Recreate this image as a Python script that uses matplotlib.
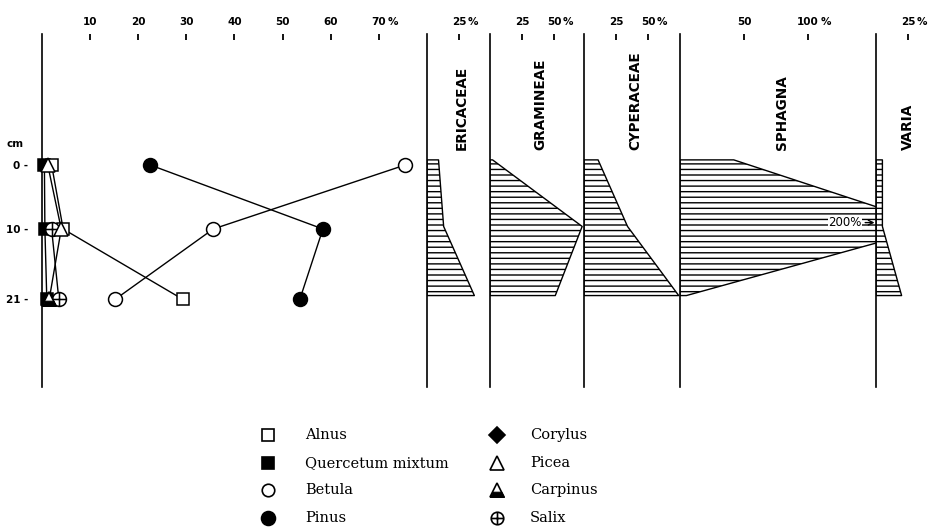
import numpy as np
import matplotlib.pyplot as plt
from matplotlib.path import Path

# sample depths (cm)
depths = [0, 10, 21]

# tree pollen (%)
alnus = [2.0, 4.4, 29.3]
quercetum = [0.5, 0.6, 1.0]
betula = [75.5, 35.6, 15.2]
pinus = [22.5, 58.4, 53.6]
picea = [1.2, 4.0, 1.5]
carpinus = [np.nan, np.nan, 1.5]
salix = [np.nan, 2.0, 3.5]

# other panels (%)
ericaceae = [9, 13, 37]
gramineae = [2, 72, 51]
cyperaceae = [11, 34, 74]
sphagna = [42, 200, 5]
varia = [5, 5, 20]

tree_ticks = [10, 20, 30, 40, 50, 60, 70]
legend_labels = ["Alnus", "Quercetum mixtum", "Betula", "Pinus",
                 "Corylus", "Picea", "Carpinus", "Salix"]

W, H = 931, 532
TOP, BOT = 34, 387          # pixel rows of the diagram frame
Y0, PX_CM = 165, 6.4        # row of 0 cm, pixels per cm
ylim = ((BOT - Y0) / PX_CM, (TOP - Y0) / PX_CM)
band = [-0.8, 9.6, 20.4]    # where the profile vertices are drawn

plt.rcParams['hatch.linewidth'] = 1.0
tickfont = dict(family='DejaVu Sans', weight='bold', size=7.5)
namefont = dict(family='DejaVu Sans', weight='bold', size=9.8)

fig = plt.figure(figsize=(W / 100, H / 100), dpi=100)


def frame(x0, x1, pxper):
    ax = fig.add_axes([x0 / W, 1 - BOT / H, (x1 - x0) / W, (BOT - TOP) / H])
    ax.set_facecolor('none')
    ax.set_xlim(0, (x1 - x0) / pxper)
    ax.set_ylim(*ylim)
    for s in ['top', 'right', 'bottom']:
        ax.spines[s].set_visible(False)
    ax.spines['left'].set_linewidth(1.2)
    ax.xaxis.tick_top()
    ax.tick_params(axis='x', direction='in', length=4, width=1.3, labeltop=False)
    ax.set_yticks([])
    return ax


def top_labels(ax, ticks, pct_on):
    ax.set_xticks(ticks)
    for v in ticks:
        t = ax.annotate(str(v), xy=(v, 1), xycoords=('data', 'axes fraction'),
                        xytext=(0, 5), textcoords='offset points',
                        ha='center', va='bottom', **tickfont)
        if v in pct_on:
            ax.annotate('%', xy=(1, 0), xycoords=t, xytext=(1, 0),
                        textcoords='offset points', ha='left', va='bottom',
                        **tickfont)


# ---- tree pollen panel
ax = frame(42, 427, 4.81)
top_labels(ax, tree_ticks, [70])
ax.set_yticks(depths)
ax.set_yticklabels(['0 -', '10 -', '21 -'], **tickfont)
ax.tick_params(axis='y', length=0, pad=10)
ax.text(-5.6, -3.3, 'cm', ha='center', va='center', **tickfont)

circ_plus = Path.make_compound_path(
    Path.unit_circle(),
    Path([(-1, 0), (1, 0)], [Path.MOVETO, Path.LINETO]),
    Path([(0, -1), (0, 1)], [Path.MOVETO, Path.LINETO]))
base_band = Path([(-1, -1), (1, -1), (0.62, -0.25), (-0.62, -0.25), (-1, -1)],
                 [Path.MOVETO, Path.LINETO, Path.LINETO, Path.LINETO, Path.CLOSEPOLY])

series = [
    (quercetum, dict(marker='s', mfc='k', ms=8)),
    (alnus, dict(marker='s', mfc='white', ms=9)),
    (salix, dict(marker=circ_plus, mfc='white', ms=10)),
    (picea, dict(marker='^', mfc='white', ms=10)),
    (carpinus, dict(marker='^', mfc='white', ms=10)),
    (betula, dict(marker='o', mfc='white', ms=10)),
    (pinus, dict(marker='o', mfc='k', ms=10)),
]
for vals, st in series:
    ax.plot(vals, depths, color='k', lw=1.0, zorder=2, clip_on=False)
for vals, st in series:
    ax.plot(vals, depths, ls='none', mec='k', mew=1.1, zorder=3, clip_on=False, **st)
ax.plot(carpinus, depths, ls='none', marker=base_band, mfc='k', mec='k',
        ms=10, mew=0.8, zorder=4, clip_on=False)

# ---- silhouette panels
panels = [
    ('ERICACEAE', 427, 490, ericaceae, [25], [25], 27.3),
    ('GRAMINEAE', 490, 584, gramineae, [25, 50], [50], 39),
    ('CYPERACEAE', 584, 680, cyperaceae, [25, 50], [50], 39.8),
    ('SPHAGNA', 680, 876, sphagna, [50, 100], [100], 80),
    ('VARIA', 876, 931, varia, [25], [25], 25),
]
for name, x0, x1, vals, ticks, pct_on, lx in panels:
    pax = frame(x0, x1, 1.28)
    top_labels(pax, ticks, pct_on)
    pax.fill_betweenx(band, 0, vals, facecolor='white', edgecolor='k',
                      hatch='---', linewidth=1.0)
    pax.text(lx, -2.3, name, rotation=90, ha='center', va='bottom', **namefont)
    if name == 'SPHAGNA':
        pax.annotate('200%', xy=(152, 9.0), xytext=(129, 9.0),
                     ha='center', va='center', family='DejaVu Sans', size=8.5,
                     bbox=dict(boxstyle='square,pad=0.05', fc='white', ec='none'),
                     arrowprops=dict(arrowstyle='->', lw=1.0, color='k',
                                     shrinkA=2, shrinkB=0))

# ---- legend
lax = fig.add_axes([0, 0, 1, 1])
lax.set_xlim(0, W)
lax.set_ylim(H, 0)
lax.axis('off')
leg_marks = [
    dict(marker='s', mfc='white', ms=9),
    dict(marker='s', mfc='k', ms=9),
    dict(marker='o', mfc='white', ms=9),
    dict(marker='o', mfc='k', ms=10),
    dict(marker='D', mfc='k', ms=8),
    dict(marker='^', mfc='white', ms=10),
    dict(marker='^', mfc='white', ms=10),
    dict(marker=circ_plus, mfc='white', ms=9),
]
rows = [435, 463, 490, 518]
for i, (lab, st) in enumerate(zip(legend_labels, leg_marks)):
    mx, tx = (268, 305) if i < 4 else (497, 530)
    y = rows[i % 4]
    lax.plot([mx], [y], ls='none', mec='k', mew=1.2, **st)
    if lab == 'Carpinus':
        lax.plot([mx], [y], ls='none', marker=base_band, mfc='k', mec='k', ms=10, mew=0.8)
    lax.text(tx, y, lab, ha='left', va='center', family='DejaVu Serif', size=10.5)

fig.savefig('out.png', dpi=100)
